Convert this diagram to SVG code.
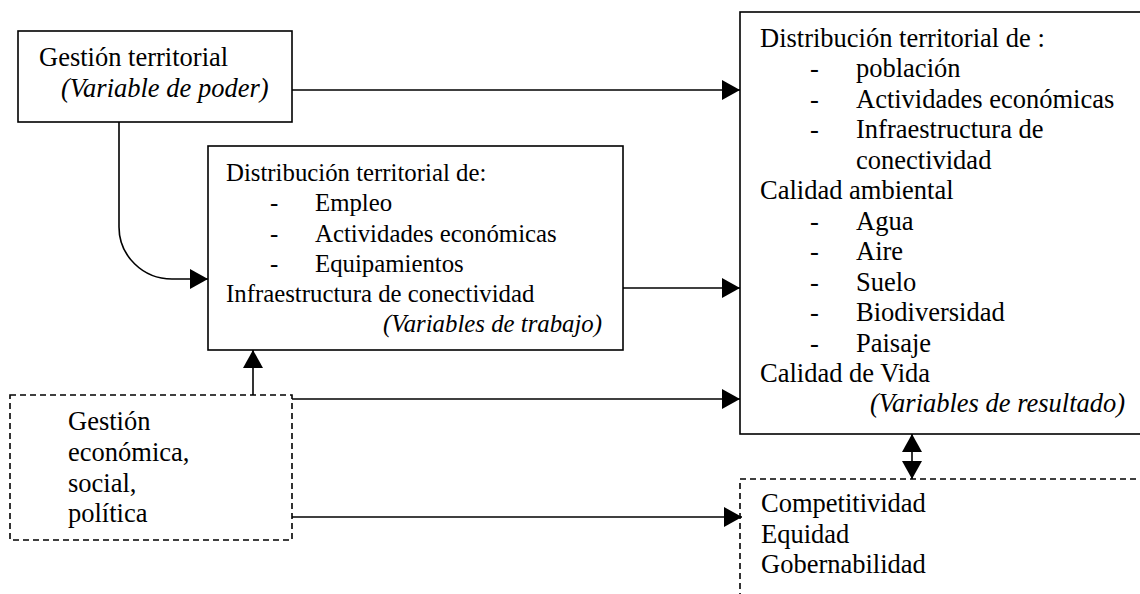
<svg xmlns="http://www.w3.org/2000/svg" width="1140" height="594" viewBox="0 0 1140 594">
<style>
  .box { fill: #fff; stroke: #000; stroke-width: 1.6; }
  .dash { fill: #fff; stroke: #000; stroke-width: 1.6; stroke-dasharray: 6 4; }
  .t { font-family: "Liberation Serif", "Times New Roman", serif; font-size: 26.5px; fill: #000; }
  .s { font-size: 24.8px; }
  .i { font-style: italic; }
  .conn { fill: none; stroke: #000; stroke-width: 1.6; }
</style>
<defs>
  <marker id="ah" markerUnits="userSpaceOnUse" markerWidth="18" markerHeight="20" refX="18" refY="10" orient="auto">
    <path d="M0,0 L18,10 L0,20 z" fill="#000"/>
  </marker>
  <marker id="ahs" markerUnits="userSpaceOnUse" markerWidth="18" markerHeight="20" refX="0" refY="10" orient="auto">
    <path d="M18,0 L0,10 L18,20 z" fill="#000"/>
  </marker>
</defs>
<rect width="1140" height="594" fill="#fff"/>

<g id="gestion-territorial">
  <rect class="box" x="18" y="31" width="274" height="91"/>
  <text class="t" x="39" y="66">Gestión territorial</text>
  <text class="t i" x="61" y="97">(Variable de poder)</text>
</g>

<g id="variables-trabajo">
  <rect class="box" x="208" y="146" width="415" height="204"/>
  <text class="t s" x="226" y="181">Distribución territorial de:</text>
  <text class="t s" x="270" y="211">-</text><text class="t s" x="315" y="211">Empleo</text>
  <text class="t s" x="270" y="241.5">-</text><text class="t s" x="315" y="241.5">Actividades económicas</text>
  <text class="t s" x="270" y="272">-</text><text class="t s" x="315" y="272">Equipamientos</text>
  <text class="t s" x="226" y="302">Infraestructura de conectividad</text>
  <text class="t s i" x="383" y="332">(Variables de trabajo)</text>
</g>

<g id="variables-resultado">
  <rect class="box" x="740" y="12" width="420" height="422"/>
  <text class="t" x="760" y="46.5">Distribución territorial de :</text>
  <text class="t" x="810" y="77">-</text><text class="t" x="856" y="77">población</text>
  <text class="t" x="810" y="107.5">-</text><text class="t" x="856" y="107.5">Actividades económicas</text>
  <text class="t" x="810" y="138">-</text><text class="t" x="856" y="138">Infraestructura de</text>
  <text class="t" x="856" y="168.5">conectividad</text>
  <text class="t" x="760" y="199">Calidad ambiental</text>
  <text class="t" x="810" y="229.5">-</text><text class="t" x="856" y="229.5">Agua</text>
  <text class="t" x="810" y="260">-</text><text class="t" x="856" y="260">Aire</text>
  <text class="t" x="810" y="290.5">-</text><text class="t" x="856" y="290.5">Suelo</text>
  <text class="t" x="810" y="321">-</text><text class="t" x="856" y="321">Biodiversidad</text>
  <text class="t" x="810" y="351.5">-</text><text class="t" x="856" y="351.5">Paisaje</text>
  <text class="t" x="760" y="382">Calidad de Vida</text>
  <text class="t i" x="870" y="412">(Variables de resultado)</text>
</g>

<g id="gestion-economica">
  <rect class="dash" x="10" y="395" width="282" height="145"/>
  <text class="t" x="68" y="430">Gestión</text>
  <text class="t" x="68" y="461">económica,</text>
  <text class="t" x="68" y="492">social,</text>
  <text class="t" x="68" y="522">política</text>
</g>

<g id="competitividad">
  <rect class="dash" x="740" y="479" width="420" height="140"/>
  <text class="t" x="761" y="512">Competitividad</text>
  <text class="t" x="761" y="543">Equidad</text>
  <text class="t" x="761" y="573">Gobernabilidad</text>
</g>

<g id="connectors">
  <path class="conn" d="M292,90 H740" marker-end="url(#ah)"/>
  <path class="conn" d="M119,122 V227 A53,52 0 0 0 172,279 H208" marker-end="url(#ah)"/>
  <path class="conn" d="M623,288 H740" marker-end="url(#ah)"/>
  <path class="conn" d="M253,395 V350" marker-end="url(#ah)"/>
  <path class="conn" d="M292,399 H740" marker-end="url(#ah)"/>
  <path class="conn" d="M292,517 H742" marker-end="url(#ah)"/>
  <path class="conn" d="M912,434 V479" marker-start="url(#ahs)" marker-end="url(#ah)"/>
</g>
</svg>
